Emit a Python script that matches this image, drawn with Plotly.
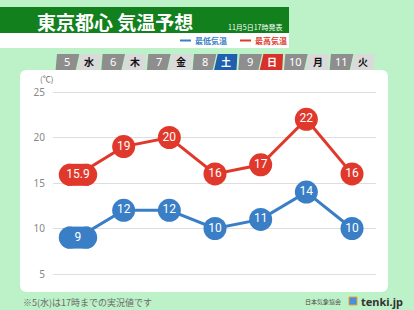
import plotly.graph_objects as go

# ---- data ----
days = ["5", "6", "7", "8", "9", "10", "11"]
weekdays = ["水", "木", "金", "土", "日", "月", "火"]
low_temps = [9, 12, 12, 10, 11, 14, 10]
high_temps = [15.9, 19, 20, 16, 17, 22, 16]
low_labels = ["9", "12", "12", "10", "11", "14", "10"]
high_labels = ["15.9", "19", "20", "16", "17", "22", "16"]
y_ticks = [5, 10, 15, 20, 25]

# ---- geometry helpers (pixel -> paper) ----
W, H = 414, 310
L, R, T, B = 53, 38, 90, 34
PW, PH = W - L - R, H - T - B


def px(x):
    return (x - L) / PW


def py(y):
    return (H - B - y) / PH


BLUE = "#3a7fc6"
RED = "#e0392c"
BG = "#bdf1c8"
HEADER_GREEN = "#12801d"
NUMFONT = "Liberation Sans Narrow, Roboto, sans-serif"

xs = list(range(len(days)))

fig = go.Figure()

# main lines + circle markers (first point drawn as pill separately)
for vals, labels, col in [(low_temps, low_labels, BLUE), (high_temps, high_labels, RED)]:
    sizes = [0] + [23] * (len(vals) - 1)
    txt = [""] + labels[1:]
    fig.add_trace(go.Scatter(
        x=xs, y=vals, mode="lines+markers+text",
        line=dict(color=col, width=3),
        marker=dict(color=col, size=sizes, opacity=1, line=dict(width=0)),
        text=txt, textposition="middle center",
        textfont=dict(color="white", size=12, family=NUMFONT),
        cliponaxis=False, hoverinfo="skip", showlegend=False,
    ))
    # pill for first point
    off = 0.18
    fig.add_trace(go.Scatter(
        x=[xs[0] - off, xs[0], xs[0] + off], y=[vals[0]] * 3,
        mode="markers+text",
        marker=dict(color=col, size=22, opacity=1,
                    symbol=["circle", "square", "circle"], line=dict(width=0)),
        text=["", labels[0], ""], textposition="middle center",
        textfont=dict(color="white", size=12, family=NUMFONT),
        cliponaxis=False, hoverinfo="skip", showlegend=False,
    ))

shapes = []
annotations = []

# white rounded panel
x0, x1, y0, y1, r = 20, 388, 70, 292, 7
path = (
    f"M {px(x0 + r)},{py(y0)} L {px(x1 - r)},{py(y0)} "
    f"Q {px(x1)},{py(y0)} {px(x1)},{py(y0 + r)} "
    f"L {px(x1)},{py(y1 - r)} Q {px(x1)},{py(y1)} {px(x1 - r)},{py(y1)} "
    f"L {px(x0 + r)},{py(y1)} Q {px(x0)},{py(y1)} {px(x0)},{py(y1 - r)} "
    f"L {px(x0)},{py(y0 + r)} Q {px(x0)},{py(y0)} {px(x0 + r)},{py(y0)} Z"
)
shapes.append(dict(type="path", path=path, xref="paper", yref="paper",
                   fillcolor="white", line=dict(width=0), layer="below"))

# header band
shapes.append(dict(type="rect", xref="paper", yref="paper",
                   x0=px(0), x1=px(289), y0=py(33), y1=py(7),
                   fillcolor=HEADER_GREEN, line=dict(width=0), layer="below"))
shapes.append(dict(type="rect", xref="paper", yref="paper",
                   x0=px(0), x1=px(289), y0=py(48), y1=py(33),
                   fillcolor="white", line=dict(width=0), layer="below"))

annotations.append(dict(text="<b>東京都心 気温予想</b>", xref="paper", yref="paper",
                        x=px(115), y=py(21), showarrow=False, xanchor="center", yanchor="middle",
                        font=dict(color="white", size=19, family="Noto Sans CJK JP")))
annotations.append(dict(text="11月5日17時発表", xref="paper", yref="paper",
                        x=px(284), y=py(27), showarrow=False, xanchor="right", yanchor="middle",
                        font=dict(color="white", size=7, family="Noto Sans CJK JP")))

# legend in header
for (lx, name, col) in [(180, "最低気温", BLUE), (240, "最高気温", RED)]:
    shapes.append(dict(type="rect", xref="paper", yref="paper",
                       x0=px(lx), x1=px(lx + 11), y0=py(41.5), y1=py(39.5),
                       fillcolor=col, line=dict(width=0)))
    annotations.append(dict(text=f"<b>{name}</b>", xref="paper", yref="paper",
                            x=px(lx + 13), y=py(40.5), showarrow=False, xanchor="left", yanchor="middle",
                            font=dict(color=col, size=8, family="Noto Sans CJK JP")))

# day row boxes
top, bot = py(54), py(70)
for i, (d, wd) in enumerate(zip(days, weekdays)):
    if wd == "土":
        wcol, wtxt = "#1f5fae", "white"
    elif wd == "日":
        wcol, wtxt = "#d8302a", "white"
    else:
        wcol, wtxt = "#dadada", "#111"
    shapes.append(dict(type="path", xref="x", yref="paper",
                       path=f"M {i-0.49},{bot} L {i-0.46},{top} L {i+0.03},{top} L {i-0.05},{bot} Z",
                       fillcolor="#8e8e8e", line=dict(width=0)))
    shapes.append(dict(type="path", xref="x", yref="paper",
                       path=f"M {i+0.06},{top} L {i+0.49},{top} L {i+0.47},{bot} L {i-0.02},{bot} Z",
                       fillcolor=wcol, line=dict(width=0)))
    annotations.append(dict(text=d, xref="x", yref="paper", x=i - 0.23, y=py(62),
                            showarrow=False, xanchor="center", yanchor="middle",
                            font=dict(color="white", size=11, family="Noto Sans")))
    annotations.append(dict(text=f"<b>{wd}</b>", xref="x", yref="paper", x=i + 0.25, y=py(62),
                            showarrow=False, xanchor="center", yanchor="middle",
                            font=dict(color=wtxt, size=10, family="Noto Sans CJK JP")))

# unit label
annotations.append(dict(text="(℃)", xref="paper", yref="paper", x=px(46), y=py(78),
                        showarrow=False, xanchor="center", yanchor="middle",
                        font=dict(color="#666", size=8, family="Noto Sans CJK JP")))

# footer
annotations.append(dict(text="※5(水)は17時までの実況値です", xref="paper", yref="paper",
                        x=px(21), y=py(302), showarrow=False, xanchor="left", yanchor="middle",
                        font=dict(color="#6a6a6a", size=9, family="Noto Sans CJK JP")))
annotations.append(dict(text="日本気象協会", xref="paper", yref="paper",
                        x=px(343), y=py(301), showarrow=False, xanchor="right", yanchor="middle",
                        font=dict(color="#444", size=6, family="Noto Sans CJK JP")))
shapes.append(dict(type="rect", xref="paper", yref="paper",
                   x0=px(349), x1=px(357), y0=py(305), y1=py(297),
                   fillcolor="#4a90d9", line=dict(color="#f0a030", width=1)))
annotations.append(dict(text="<b>tenki.jp</b>", xref="paper", yref="paper",
                        x=px(359), y=py(301), showarrow=False, xanchor="left", yanchor="middle",
                        font=dict(color="#333", size=11, family="Noto Sans")))

fig.update_layout(
    width=W, height=H,
    margin=dict(l=L, r=R, t=T, b=B),
    paper_bgcolor=BG,
    plot_bgcolor="rgba(0,0,0,0)",
    shapes=shapes,
    annotations=annotations,
    xaxis=dict(range=[-0.547, 6.525], showgrid=False, zeroline=False,
               showticklabels=False, ticks="", fixedrange=True),
    yaxis=dict(range=[4.78, 25.22], tickvals=y_ticks, showgrid=True,
               gridcolor="#dedede", gridwidth=1, zeroline=False,
               tickfont=dict(color="#888", size=10, family="Noto Sans"),
               ticklabelstandoff=7, ticks="", fixedrange=True),
    font=dict(family="Noto Sans CJK JP"),
)

fig.write_html("out.html")
